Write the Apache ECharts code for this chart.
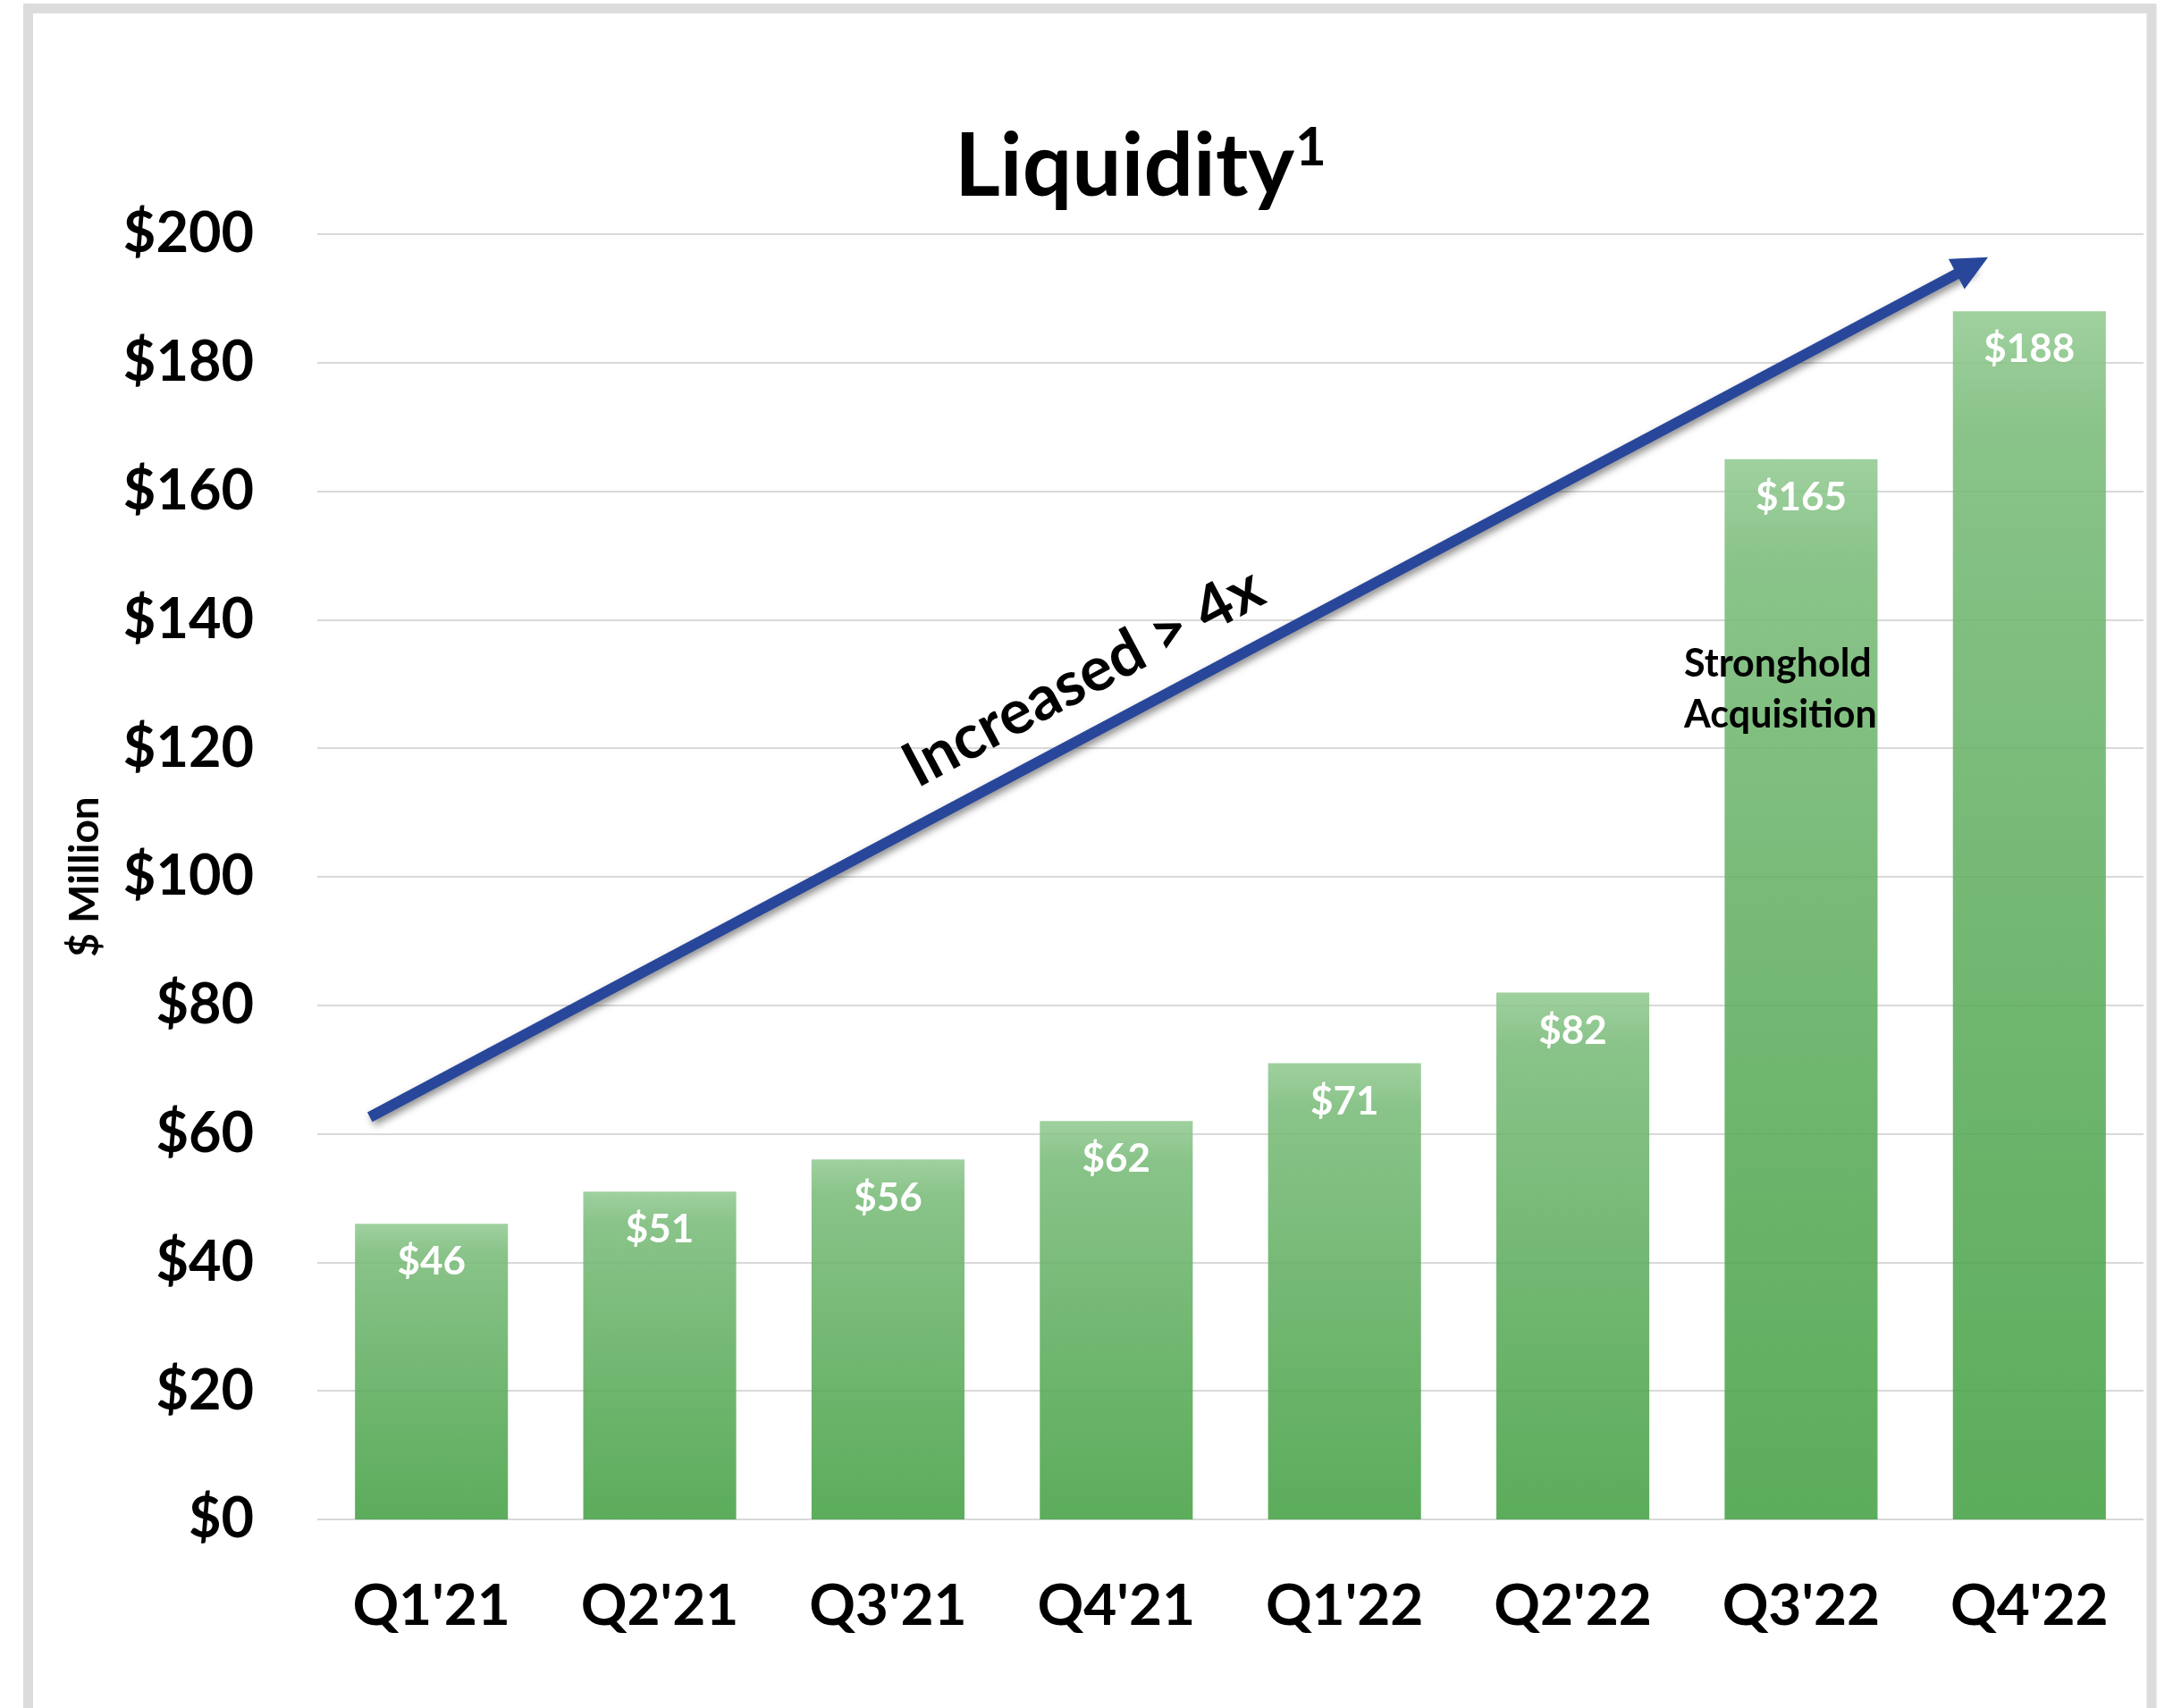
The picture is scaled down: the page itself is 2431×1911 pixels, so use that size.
<!DOCTYPE html>
<html>
    <head>
        <meta charset="utf-8">
        <title>Liquidity</title>
        <script src="https://cdn.jsdelivr.net/npm/echarts@6/dist/echarts.min.js"></script>
    </head>
    <body style="margin:0">
        <style>
            html, body, #main {
                width: 100%;
                height: 100%;
                background: #fff;
            }
        </style>
        <div id="main"></div>
        <script>
            var quarters = ["Q1'21", "Q2'21", "Q3'21", "Q4'21", "Q1'22", "Q2'22", "Q3'22", "Q4'22"];
            var liquidity = [46, 51, 56, 62, 71, 82, 165, 188];
            // trend arrow, in [category position, $M]
            var arrowFrom = [-0.27, 62.6];
            var arrowTo = [6.75, 195.1];

            var FONT = 'Lato';

            var chart = echarts.init(document.getElementById('main'));

            chart.setOption({
                backgroundColor: '#fff',
                animation: false,
                grid: {
                    left: 355,
                    right: 33,
                    top: 262,
                    bottom: 211
                },
                xAxis: [{
                    type: 'category',
                    data: quarters,
                    axisLine: { show: false },
                    axisTick: { show: false },
                    axisLabel: {
                        margin: 65,
                        color: '#000',
                        fontFamily: FONT,
                        fontWeight: 'bold',
                        fontSize: 64
                    }
                }, {
                    type: 'value',
                    min: -0.5,
                    max: 7.5,
                    show: false
                }],
                yAxis: {
                    type: 'value',
                    min: 0,
                    max: 200,
                    interval: 20,
                    axisLine: { show: false },
                    axisTick: { show: false },
                    splitLine: { lineStyle: { color: '#d9d9d9', width: 2 } },
                    axisLabel: {
                        margin: 71,
                        color: '#000',
                        fontFamily: FONT,
                        fontWeight: 'bold',
                        fontSize: 63,
                        formatter: '${value}'
                    }
                },
                series: [{
                    type: 'bar',
                    data: liquidity,
                    barCategoryGap: '33%',
                    itemStyle: {
                        color: new echarts.graphic.LinearGradient(0, 0, 0, 1, [
                            { offset: 0, color: 'rgba(146,202,145,0.88)' },
                            { offset: 0.1, color: 'rgba(121,187,121,0.88)' },
                            { offset: 0.5, color: 'rgba(96,174,96,0.88)' },
                            { offset: 1, color: 'rgba(69,161,69,0.88)' }
                        ])
                    },
                    label: {
                        show: true,
                        position: 'insideTop',
                        distance: 21,
                        color: '#fff',
                        fontFamily: FONT,
                        fontWeight: 'bold',
                        fontSize: 44,
                        formatter: '${c}'
                    }
                }, {
                    type: 'line',
                    xAxisIndex: 1,
                    data: [],
                    markLine: {
                        silent: true,
                        symbol: ['none', 'triangle'],
                        symbolSize: [38, 40],
                        label: { show: false },
                        lineStyle: {
                            type: 'solid',
                            color: '#28479b',
                            width: 12,
                            cap: 'butt',
                            shadowBlur: 8,
                            shadowColor: 'rgba(0,0,0,0.45)',
                            shadowOffsetX: 3,
                            shadowOffsetY: 4
                        },
                        data: [[{ coord: arrowFrom }, { coord: arrowTo }]]
                    }
                }],
                graphic: [{
                    type: 'rect',
                    shape: { x: 31.5, y: 9.5, width: 2375.5, height: 2000 },
                    style: { fill: 'none', stroke: '#dcdcdc', lineWidth: 11 },
                    z: 100
                }, {
                    type: 'text',
                    x: 1258,
                    y: 187,
                    z: 100,
                    style: {
                        text: 'Liquidity',
                        fill: '#000',
                        font: 'bold 98px ' + FONT,
                        textAlign: 'center',
                        textVerticalAlign: 'middle'
                    }
                }, {
                    type: 'text',
                    x: 1449,
                    y: 166,
                    z: 100,
                    style: {
                        text: '1',
                        fill: '#000',
                        font: 'bold 60px ' + FONT,
                        textAlign: 'left',
                        textVerticalAlign: 'middle'
                    }
                }, {
                    type: 'text',
                    x: 95,
                    y: 981,
                    z: 100,
                    rotation: Math.PI / 2,
                    style: {
                        text: '$ Million',
                        fill: '#000',
                        font: 'bold 46px ' + FONT,
                        textAlign: 'center',
                        textVerticalAlign: 'middle'
                    }
                }, {
                    type: 'text',
                    x: 1212,
                    y: 758,
                    z: 100,
                    rotation: 28 * Math.PI / 180,
                    style: {
                        text: 'Increased > 4x',
                        fill: '#000',
                        font: 'bold 69px ' + FONT,
                        textAlign: 'center',
                        textVerticalAlign: 'middle'
                    }
                }, {
                    type: 'text',
                    x: 1884,
                    y: 772,
                    z: 100,
                    style: {
                        text: 'Stronghold\nAcquisition',
                        fill: '#000',
                        font: 'bold 43px ' + FONT,
                        lineHeight: 57,
                        textAlign: 'left',
                        textVerticalAlign: 'middle'
                    }
                }]
            });

            window.addEventListener('resize', function () {
                chart.resize();
            });
        </script>
    </body>
</html>
